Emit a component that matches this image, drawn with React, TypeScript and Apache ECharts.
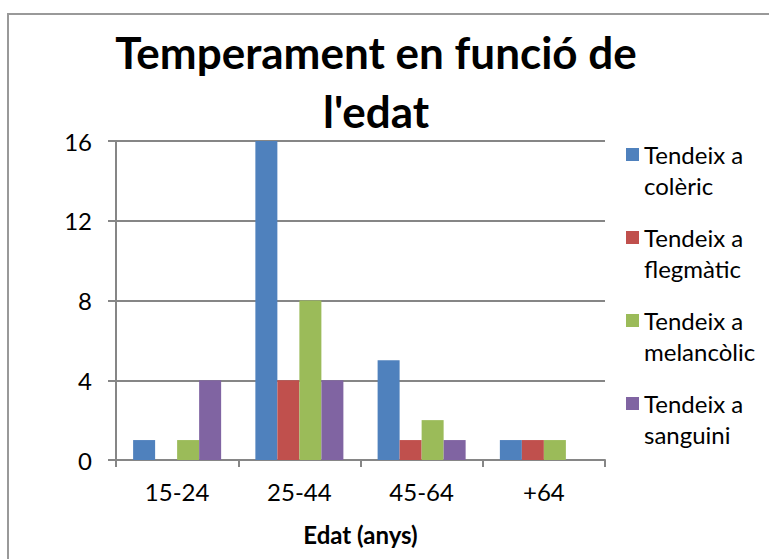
import React, { useEffect, useRef } from "react";
import * as echarts from "echarts";

const categories = ["15-24", "25-44", "45-64", "+64"];
const seriesNames = [
  "Tendeix a\ncolèric",
  "Tendeix a\nflegmàtic",
  "Tendeix a\nmelancòlic",
  "Tendeix a\nsanguini",
];
const colericValues = [1, 16, 5, 1];
const flegmaticValues = [0, 4, 1, 1];
const melancolicValues = [1, 8, 2, 1];
const sanguiniValues = [4, 4, 1, 0];
const colors = ["#4F81BD", "#C0504D", "#9BBB59", "#8064A2"];

const FONT = "Lato, 'Noto Sans', sans-serif";

export default function App() {
  const ref = useRef<HTMLDivElement>(null);
  useEffect(() => {
    document.body.style.margin = "0";
    if (!ref.current) return;
    const chart = echarts.init(ref.current, undefined, { renderer: "svg" });
    const values = [colericValues, flegmaticValues, melancolicValues, sanguiniValues];
    chart.setOption({
      animation: false,
      backgroundColor: "#ffffff",
      textStyle: { fontFamily: FONT },
      title: {
        text: "Temperament en funció de\nl'edat",
        left: 371,
        textAlign: "center",
        top: 17,
        textStyle: {
          fontFamily: FONT,
          fontSize: 44,
          fontWeight: "bold",
          color: "#000",
          lineHeight: 59,
        },
      },
      graphic: [
        {
          type: "polyline",
          shape: { points: [[8, 570], [8, 14], [780, 14]] },
          style: { stroke: "#999999", lineWidth: 2, fill: "none" },
          silent: true,
        },
      ],
      legend: {
        orient: "vertical",
        left: 621,
        top: 103,
        itemWidth: 13,
        itemHeight: 13,
        itemGap: -10,
        icon: "rect",
        data: seriesNames,
        formatter: (name: string) => "\n" + name,
        textStyle: {
          fontFamily: FONT,
          fontSize: 24,
          color: "#000",
          lineHeight: 31,
        },
      },
      grid: { left: 116, right: 164, top: 141, bottom: 99, containLabel: false },
      xAxis: {
        type: "category",
        data: categories,
        name: "Edat (anys)",
        nameLocation: "middle",
        nameGap: 62,
        nameTextStyle: { fontFamily: FONT, fontSize: 24, fontWeight: "bold", color: "#000" },
        axisLine: { lineStyle: { color: "#868686", width: 2 } },
        axisTick: { show: true, length: 7, lineStyle: { color: "#868686", width: 2 } },
        axisLabel: { fontFamily: FONT, fontSize: 24, color: "#000", margin: 19 },
      },
      yAxis: {
        type: "value",
        min: 0,
        max: 16,
        interval: 4,
        axisLine: { show: true, lineStyle: { color: "#868686", width: 2 } },
        axisTick: { show: true, length: 8, lineStyle: { color: "#868686", width: 2 } },
        axisLabel: { fontFamily: FONT, fontSize: 24, color: "#000", margin: 24 },
        splitLine: { lineStyle: { color: "#868686", width: 2 } },
      },
      series: seriesNames.map((name, i) => ({
        name,
        type: "bar",
        data: values[i],
        barGap: "0%",
        barCategoryGap: "28%",
        itemStyle: { color: colors[i] },
      })),
    });
    return () => chart.dispose();
  }, []);
  return <div ref={ref} style={{ width: 769, height: 559 }} />;
}
